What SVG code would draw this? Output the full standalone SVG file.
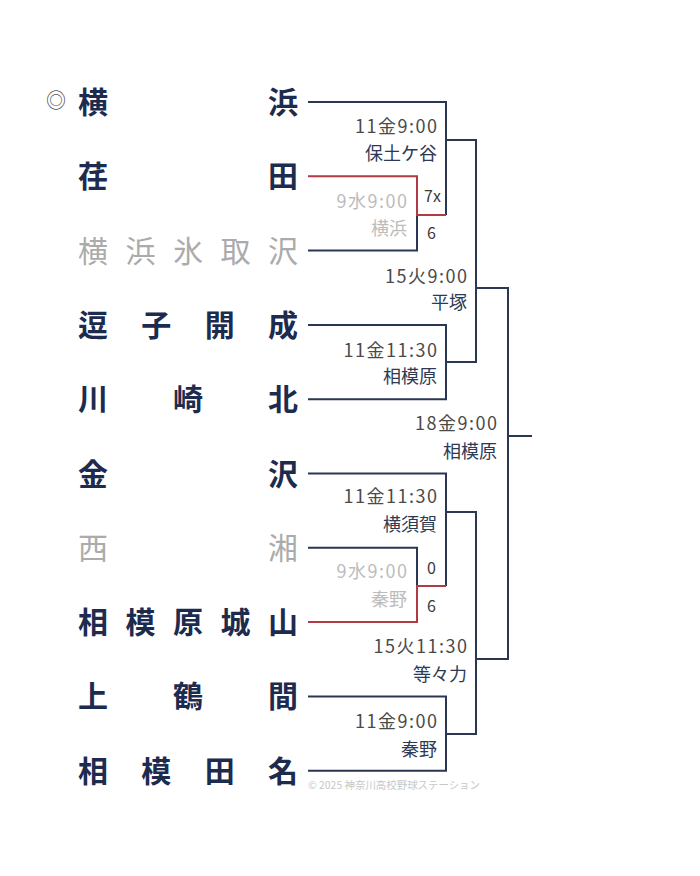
<svg xmlns="http://www.w3.org/2000/svg" width="700" height="876" viewBox="0 0 700 876">
<style>
.team{font-family:"Noto Sans CJK JP","Noto Sans CJK SC",sans-serif;font-size:30px;font-weight:bold;fill:#1d2b4f}
.out{fill:#ababab;font-weight:normal}
.date{font-family:"Noto Sans CJK JP","Noto Sans CJK SC",sans-serif;font-size:18px;letter-spacing:1.5px;fill:#4a4a4a;text-anchor:end}
.venue{font-family:"Noto Sans CJK JP","Noto Sans CJK SC",sans-serif;font-size:18px;fill:#2e3a55;text-anchor:end}
.gray{fill:#bcbcbc}
.score{font-family:"Noto Sans CJK JP","Noto Sans CJK SC",sans-serif;font-size:16px;fill:#3a3a3a}
.ln{fill:none;stroke:#2b3652;stroke-width:2}
.red{fill:none;stroke:#b23a44;stroke-width:2}
</style>
<rect width="700" height="876" fill="#ffffff"/>
<g id="connectors">
<path class="ln" d="M308,102 H446 V215"/>
<path class="ln" d="M308,250.6 H417 V215"/>
<path class="red" d="M308,176.3 H417 V215 H446"/>
<path class="ln" d="M446,140 H476 V362 H446"/>
<path class="ln" d="M308,324.9 H446 V399.2 H308"/>
<path class="ln" d="M476,288 H508 V659 H476"/>
<path class="ln" d="M508,436 H532"/>
<path class="ln" d="M308,473.5 H446 V586"/>
<path class="ln" d="M308,547.8 H417 V586"/>
<path class="red" d="M308,622.1 H417 V586 H446"/>
<path class="ln" d="M446,512 H476 V734 H446"/>
<path class="ln" d="M308,696.4 H446 V770.7 H308"/>
</g>
<g id="mark"><text x="56" y="108" font-family="Noto Sans CJK JP,sans-serif" font-size="20" fill="#555" text-anchor="middle">◎</text></g>
<g id="team1"><text class="team" x="78 268" y="113">横浜</text></g>
<g id="team2"><text class="team" x="78 268" y="187.3">荏田</text></g>
<g id="team3"><text class="team out" x="78 125.5 173 220.5 268" y="261.6">横浜氷取沢</text></g>
<g id="team4"><text class="team" x="78 141.3 204.7 268" y="335.9">逗子開成</text></g>
<g id="team5"><text class="team" x="78 173 268" y="410.2">川崎北</text></g>
<g id="team6"><text class="team" x="78 268" y="484.5">金沢</text></g>
<g id="team7"><text class="team out" x="78 268" y="558.8">西湘</text></g>
<g id="team8"><text class="team" x="78 125.5 173 220.5 268" y="633.1">相模原城山</text></g>
<g id="team9"><text class="team" x="78 173 268" y="707.4">上鶴間</text></g>
<g id="team10"><text class="team" x="78 141.3 204.7 268" y="781.7">相模田名</text></g>
<g id="m1"><text class="date" x="438.5" y="133">11金9:00</text><text class="venue" x="437" y="160">保土ケ谷</text></g>
<g id="m0a"><text class="date gray" x="408.5" y="208">9水9:00</text><text class="venue gray" x="407" y="235">横浜</text>
<text class="score" x="424" y="202">7x</text><text class="score" x="427" y="239">6</text></g>
<g id="m2"><text class="date" x="468.5" y="283">15火9:00</text><text class="venue" x="467" y="309">平塚</text></g>
<g id="m3"><text class="date" x="438.5" y="357">11金11:30</text><text class="venue" x="437" y="383">相模原</text></g>
<g id="m4"><text class="date" x="498.5" y="430">18金9:00</text><text class="venue" x="497" y="458">相模原</text></g>
<g id="m5"><text class="date" x="438.5" y="503">11金11:30</text><text class="venue" x="437" y="531">横須賀</text></g>
<g id="m0b"><text class="date gray" x="408.5" y="578">9水9:00</text><text class="venue gray" x="407" y="606">秦野</text>
<text class="score" x="427" y="574">0</text><text class="score" x="427" y="612">6</text></g>
<g id="m6"><text class="date" x="468.5" y="653">15火11:30</text><text class="venue" x="467" y="681">等々力</text></g>
<g id="m7"><text class="date" x="438.5" y="728">11金9:00</text><text class="venue" x="437" y="756">秦野</text></g>
<g id="copy"><text x="308" y="789" font-family="Noto Sans CJK JP,sans-serif" font-size="10.5" fill="#c8c8c8" textLength="172" lengthAdjust="spacingAndGlyphs">© 2025 神奈川高校野球ステーション</text></g>
</svg>
